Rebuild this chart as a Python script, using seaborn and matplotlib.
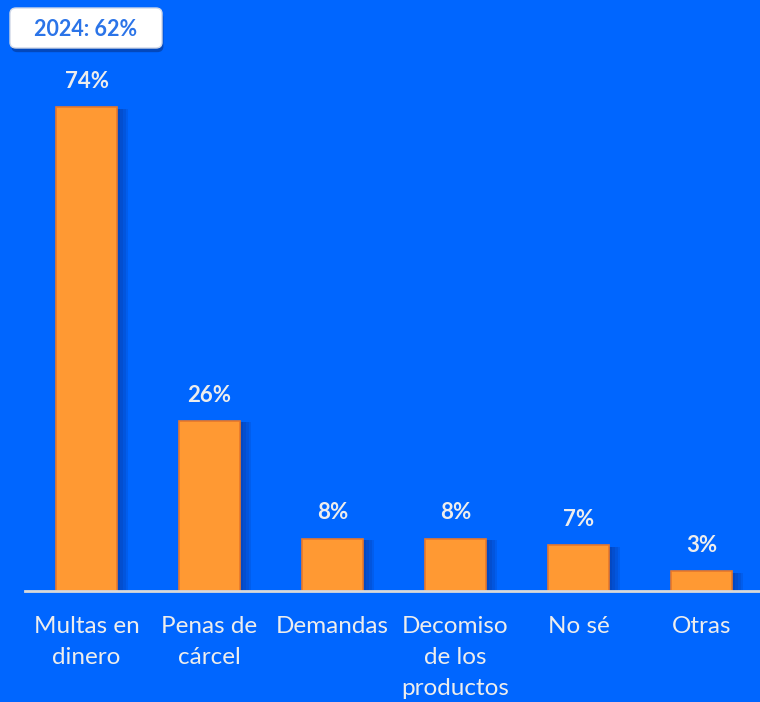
import matplotlib.pyplot as plt
import matplotlib.patheffects as pe
from matplotlib.patches import FancyBboxPatch
import pandas as pd
import seaborn as sns

categories = ["Multas en\ndinero", "Penas de\ncárcel", "Demandas",
              "Decomiso\nde los\nproductos", "No sé", "Otras"]
values = [74, 26, 8, 8, 7, 3]
badge_text = "2024: 62%"

BG = "#0066FF"
BAR = "#FF9933"
EDGE = "#E8782A"

sns.set_theme(style="white")
plt.rcParams["font.family"] = ["Lato", "DejaVu Sans"]

df = pd.DataFrame({"cat": categories, "val": values})

fig = plt.figure(figsize=(7.6, 7.02), dpi=100, facecolor=BG)
ax = fig.add_axes([25 / 760, 111 / 702, 738 / 760, 523 / 702])
ax.set_facecolor(BG)

sns.barplot(data=df, x="cat", y="val", color=BAR, width=0.5, saturation=1,
            edgecolor=EDGE, linewidth=1.2, ax=ax)

# soft shadow on the right side of the bars
shadow = [pe.SimplePatchShadow(offset=(k, -1), shadow_rgbFace="#0A2A80", alpha=0.14)
          for k in (8, 6, 4, 2)]
for bar in ax.patches:
    bar.set_path_effects(shadow + [pe.Normal()])

for i, v in enumerate(values):
    ax.annotate(f"{v}%", (i, v), xytext=(0, 11), textcoords="offset points",
                ha="center", va="bottom", fontsize=16, fontweight="bold",
                color="#EDEDED", clip_on=False)

ax.set_xlim(-0.5, 5.5)
ax.set_ylim(0, 80)
ax.set_xlabel("")
ax.set_ylabel("")
ax.set_yticks([])
ax.tick_params(axis="x", length=0, pad=18, labelsize=17.5, labelcolor="#EDEDED")
for lbl in ax.get_xticklabels():
    lbl.set_linespacing(1.6)
    lbl.set_va("top")
for s in ["top", "right", "left"]:
    ax.spines[s].set_visible(False)
ax.spines["bottom"].set_color("#D9D9D9")
ax.spines["bottom"].set_linewidth(2)

# badge at top-left
box = FancyBboxPatch((10 / 760, 1 - 48 / 702), 152 / 760, 40 / 702,
                     boxstyle="round,pad=0,rounding_size=0.008",
                     transform=fig.transFigure, facecolor="white",
                     edgecolor="#D0D8E8", linewidth=1,
                     path_effects=[pe.SimplePatchShadow(offset=(1, -3), shadow_rgbFace="#062B7A", alpha=0.5),
                                   pe.Normal()])
fig.patches.append(box)
fig.text(86 / 760, 1 - 29 / 702, badge_text, ha="center", va="center",
         fontsize=15.5, fontweight="bold", color="#2B74E8")

fig.savefig("out.png", dpi=100, facecolor=BG)
